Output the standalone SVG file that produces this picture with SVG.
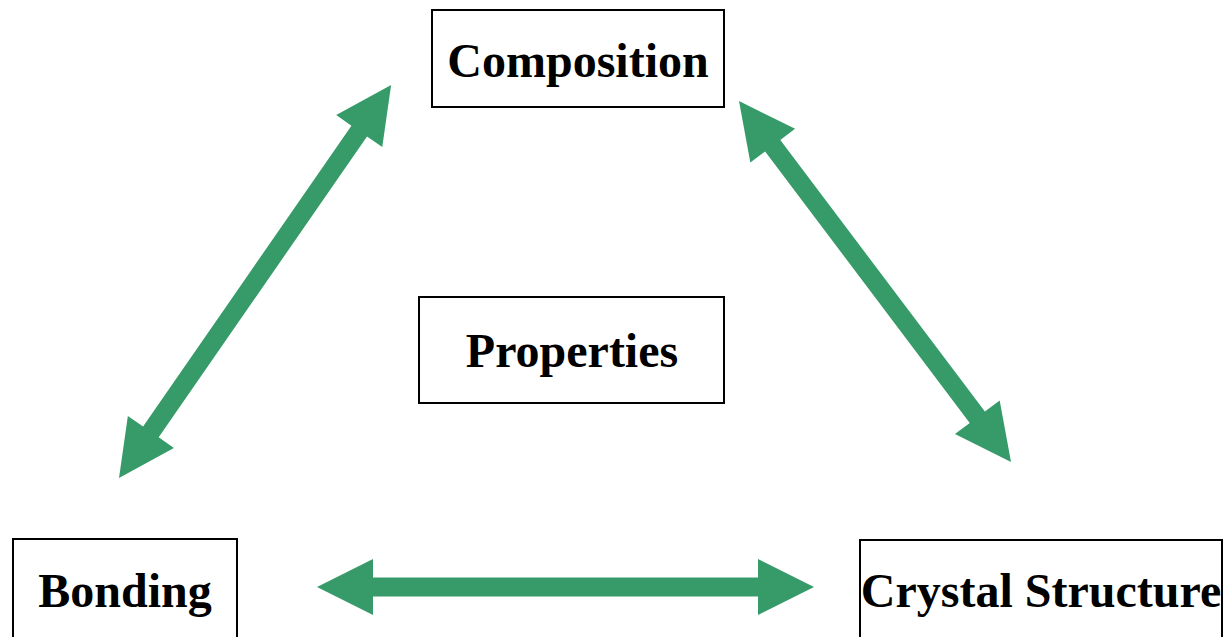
<svg xmlns="http://www.w3.org/2000/svg" width="1227" height="637" viewBox="0 0 1227 637">
<style>
.box{fill:#fff;stroke:#000;stroke-width:2}
.lbl{font-family:"Liberation Serif","Times New Roman",serif;font-weight:bold;font-size:48px;fill:#000;text-anchor:middle}
.arr{fill:#369b69}
</style>
<rect width="1227" height="637" fill="#fff"/>
<g id="connectors">
<polygon class="arr" transform="translate(317,587)" points="0,0 56,-28 56,-9.5 441,-9.5 441,-28 497,0 441,28 441,9.5 56,9.5 56,28"/>
<polygon class="arr" transform="translate(119,478) rotate(-55.3)" points="0,0 56,-28 56,-9.5 422,-9.5 422,-28 478,0 422,28 422,9.5 56,9.5 56,28"/>
<polygon class="arr" transform="translate(739,101) rotate(53)" points="0,0 56,-28 56,-9.5 396,-9.5 396,-28 452,0 396,28 396,9.5 56,9.5 56,28"/>
</g>
<g id="composition">
<rect class="box" x="432" y="10" width="292" height="97"/>
<text class="lbl" x="578" y="77">Composition</text>
</g>
<g id="properties">
<rect class="box" x="419" y="297" width="305" height="106"/>
<text class="lbl" x="572" y="367">Properties</text>
</g>
<g id="bonding">
<rect class="box" x="13" y="539" width="224" height="110"/>
<text class="lbl" x="125" y="607">Bonding</text>
</g>
<g id="crystal">
<rect class="box" x="860" y="540" width="362" height="110"/>
<text class="lbl" x="1041" y="607">Crystal Structure</text>
</g>
</svg>
